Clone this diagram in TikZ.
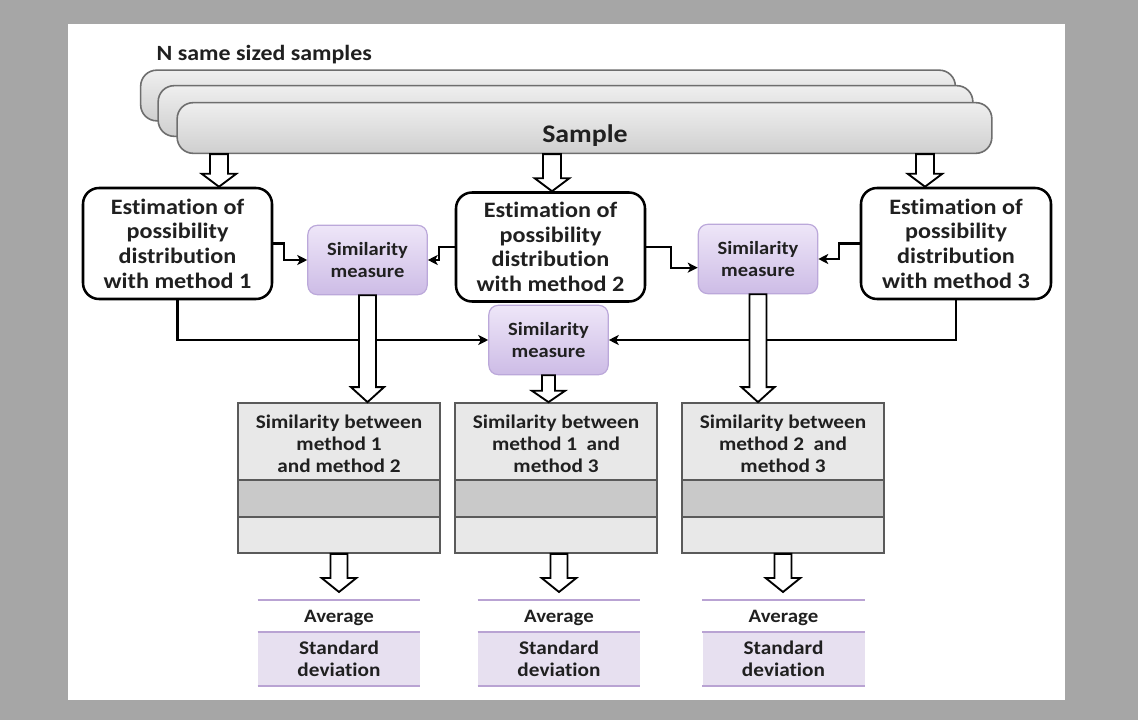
\documentclass[tikz,border=0pt]{standalone}
\usepackage{fontspec}
\setmainfont{Carlito}[FakeStretch=1.1,RawFeature={-liga;-clig;-calt;-dlig}]
\usetikzlibrary{calc,arrows.meta}
\definecolor{bggray}{HTML}{A6A6A6}
\definecolor{txt}{HTML}{202020}
\definecolor{simtop}{HTML}{EEE6F8}
\definecolor{simbot}{HTML}{CDBCE6}
\definecolor{simedge}{HTML}{BBA8DA}
\definecolor{samtop}{HTML}{EFEFEF}
\definecolor{sambot}{HTML}{CFCFCF}
\definecolor{samedge}{HTML}{6E6E6E}
\definecolor{rowlight}{HTML}{E8E8E8}
\definecolor{rowdark}{HTML}{C9C9C9}
\definecolor{rowedge}{HTML}{5A5A5A}
\definecolor{pline}{HTML}{B9A3D3}
\definecolor{pfill}{HTML}{E7E0F0}
\tikzset{
  samplebox/.style={draw=samedge, line width=1.2pt, rounded corners=12pt, top color=samtop, bottom color=sambot, minimum width=611pt, minimum height=38pt, inner sep=0pt},
  estbox/.style={draw=black, line width=1.9pt, rounded corners=12pt, fill=white, align=center, font=\bfseries\fontsize{16.5}{18.5}\selectfont, text=txt, inner sep=0pt},
  simbox/.style={draw=simedge, line width=0.9pt, rounded corners=7pt, top color=simtop, bottom color=simbot, align=center, font=\bfseries\fontsize{14}{17}\selectfont, text=txt, minimum width=89.5pt, minimum height=52pt, inner sep=0pt},
  rowbox/.style={draw=rowedge, line width=1.3pt, minimum width=151.5pt, inner sep=0pt, align=center, font=\bfseries\fontsize{14.5}{16.5}\selectfont, text=txt},
  conn/.style={draw=black, line width=1.6pt, -{Stealth[length=7.5pt,width=7.5pt,inset=2pt]}},
  hollow/.style={draw=black, fill=white, line width=1.4pt, line join=miter},
  avgbox/.style={minimum width=121.5pt, minimum height=24pt, inner sep=0pt},
  sdbox/.style={fill=pfill, minimum width=121.5pt, minimum height=40.5pt, inner sep=0pt, align=center, font=\bfseries\fontsize{14.5}{16.5}\selectfont, text=txt},
  pl/.style={draw=pline, line width=1.6pt}
}
% hollow block arrow: from, to, half shaft, half head, head length
\newcommand{\harrow}[5]{\draw[hollow] let \p1=(#1), \p2=(#2) in
  (\x1-#3,\y1) -- (\x1-#3,\y2+#5) -- (\x1-#4,\y2+#5) -- (\x1,\y2) -- (\x1+#4,\y2+#5) -- (\x1+#3,\y2+#5) -- (\x1+#3,\y1) -- cycle;}
\begin{document}
\begin{tikzpicture}[x=0.75pt,y=-0.75pt]
\fill[bggray] (0,0) rectangle (1138,720);
\fill[white] (68,24) rectangle (1065,700);
\useasboundingbox (0,0) rectangle (1138,720);

\node[anchor=west, font=\bfseries\fontsize{16.3}{18}\selectfont, text=txt] (title) at (152,55) {N same sized samples};

\node[samplebox] (sA) at (548,95.5) {};
\node[samplebox] (sB) at (565.5,111) {};
\node[samplebox] (sC) at (584.5,128) {};
\node[font=\bfseries\fontsize{19}{22}\selectfont, text=txt] (sCtext) at (585,135.5) {Sample};

\node[estbox, minimum width=141.75pt, minimum height=83.25pt] (b1) at (177.5,243.5) {Estimation of\\possibility\\distribution\\with method 1};
\node[estbox, minimum width=141.75pt, minimum height=81.75pt] (b2) at (550.5,247) {Estimation of\\possibility\\distribution\\with method 2};
\node[estbox, minimum width=142.5pt, minimum height=83.25pt] (b3) at (956,243.5) {Estimation of\\possibility\\distribution\\with method 3};

\node[simbox] (s1) at (367.5,260) {Similarity\\measure};
\node[simbox] (s2) at (758,259) {Similarity\\measure};
\node[simbox] (s3) at (548.5,340) {Similarity\\measure};

% tables
\foreach \n/\cx/\t in {1/339/{Similarity between\\method 1\\and method 2}, 2/556/{Similarity between\\method 1~~and\\method 3}, 3/783/{Similarity between\\method 2~~and\\method 3}}{
  \node[rowbox, fill=rowlight, minimum height=57.75pt] (t\n a) at (\cx,441.5) {};
  \node[rowbox, draw=none, fill=none] (tt\n) at (\cx,443.5) {\t};
  \node[rowbox, fill=rowdark, minimum height=27.75pt] (t\n b) at (\cx,498.5) {};
  \node[rowbox, fill=rowlight, minimum height=27pt] (t\n c) at (\cx,535) {};
}

% result blocks
\foreach \n/\cx in {1/339,2/559,3/783.5}{
  \node[avgbox] (av\n) at (\cx,616) {};
  \node[font=\bfseries\fontsize{14.2}{16.5}\selectfont, text=txt] (avt\n) at (\cx,617.5) {Average};
  \node[sdbox] (sd\n) at (\cx,659) {Standard\\deviation};
  \draw[pl] (av\n.north west) -- (av\n.north east);
  \draw[pl] (sd\n.north west) -- (sd\n.north east);
  \draw[pl] (sd\n.south west) -- (sd\n.south east);
}

% connectors
\draw[conn] (b1.east) -- ++(8.25pt,0) |- (s1.west);
\draw[conn] (b2.west) -- ++(-12pt,0) |- (s1.east);
\draw[conn] (b2.east) -- ++(18.75pt,0) |- ([yshift=-6.5pt]s2.west);
\draw[conn] (b3.west) -- ++(-15.75pt,0) |- (s2.east);
\draw[conn] (b1.south) |- (s3.west);
\draw[conn] (b3.south) |- (s3.east);

% hollow arrows from sample
\coordinate (ax1) at (219,0);
\coordinate (ax2) at (552,0);
\coordinate (ax3) at (925,0);
\harrow{sC.south -| ax1}{b1.north -| ax1}{6.75pt}{13pt}{9.75pt}
\harrow{sC.south -| ax2}{b2.north -| ax2}{6.75pt}{13pt}{9.75pt}
\harrow{sC.south -| ax3}{b3.north -| ax3}{6.75pt}{13pt}{9.75pt}

% big hollow arrows into tables
\harrow{s1.south}{t1a.north -| s1.south}{6.4pt}{12.4pt}{11.25pt}
\harrow{s2.south}{t3a.north -| s2.south}{6.4pt}{12.4pt}{11.25pt}
\harrow{s3.south}{t2a.north -| s3.south}{4.9pt}{12.4pt}{8.5pt}

% small hollow arrows to results
\coordinate (tip1) at (339,592);
\coordinate (tip2) at (559,592);
\coordinate (tip3) at (783,592);
\harrow{t1c.south -| tip1}{tip1}{6.4pt}{13pt}{10.5pt}
\harrow{t2c.south -| tip2}{tip2}{6.4pt}{13pt}{10.5pt}
\harrow{t3c.south -| tip3}{tip3}{6.4pt}{13pt}{10.5pt}
\end{tikzpicture}
\end{document}
